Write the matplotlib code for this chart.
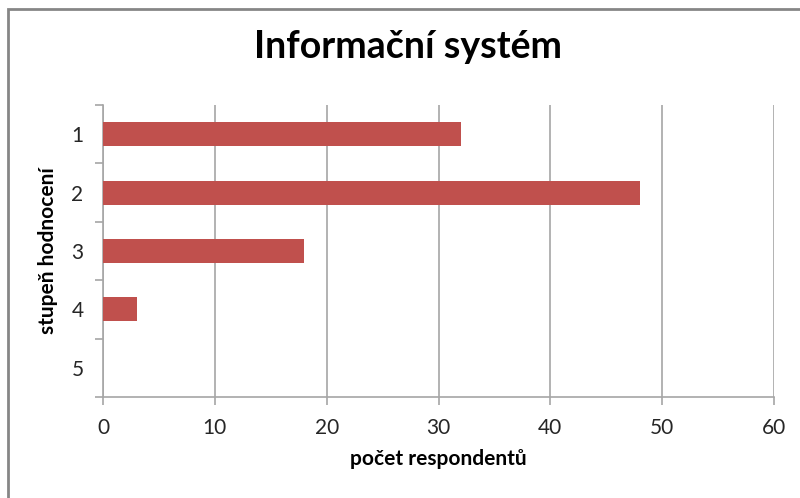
import numpy as np
import matplotlib.pyplot as plt
from matplotlib.patches import Rectangle

plt.rcParams['font.family'] = ['Lato', 'DejaVu Sans']

categories = ["1", "2", "3", "4", "5"]
values = [32, 48, 18, 3, 0]
x_ticks = [0, 10, 20, 30, 40, 50, 60]

fig = plt.figure(figsize=(8, 4.98), dpi=100)
ax = fig.add_axes([0.12875, 0.2028, 0.83875, 0.5863])

pos = np.arange(len(categories))
ax.barh(pos, values, height=0.41, color="#C0504D", zorder=3)

ax.set_xlim(0, 60)
ax.set_ylim(len(categories) - 0.5, -0.5)
ax.set_xticks(x_ticks)
ax.set_yticks(pos)
ax.set_yticklabels(categories)
ax.set_yticks(np.arange(len(categories) + 1) - 0.5, minor=True)

ax.grid(axis="x", color="#A6A6A6", linewidth=1.2, zorder=0)
for s in ["top", "right"]:
    ax.spines[s].set_visible(False)
for s in ["left", "bottom"]:
    ax.spines[s].set_color("#A6A6A6")
    ax.spines[s].set_linewidth(1.2)

ax.tick_params(axis="y", which="major", length=0, pad=14, labelsize=15, colors="#262626")
ax.tick_params(axis="y", which="minor", length=6, color="#A6A6A6", width=1.2)
ax.tick_params(axis="x", length=6, color="#A6A6A6", width=1.2, pad=9, labelsize=15, labelcolor="#262626")

ax.set_xlabel("počet respondentů", fontsize=15, fontweight="bold", labelpad=8)
ax.set_ylabel("stupeň hodnocení", fontsize=15, fontweight="bold", labelpad=10)
fig.suptitle("Informační systém", fontsize=27, fontweight="bold", x=0.51, y=0.94)

fig.patches.append(Rectangle((8 / 800, -0.1), 1.2, 1 - 9 / 498 + 0.1,
                             transform=fig.transFigure, fill=False,
                             edgecolor="#868686", linewidth=2))

fig.savefig("out.png", dpi=100)
